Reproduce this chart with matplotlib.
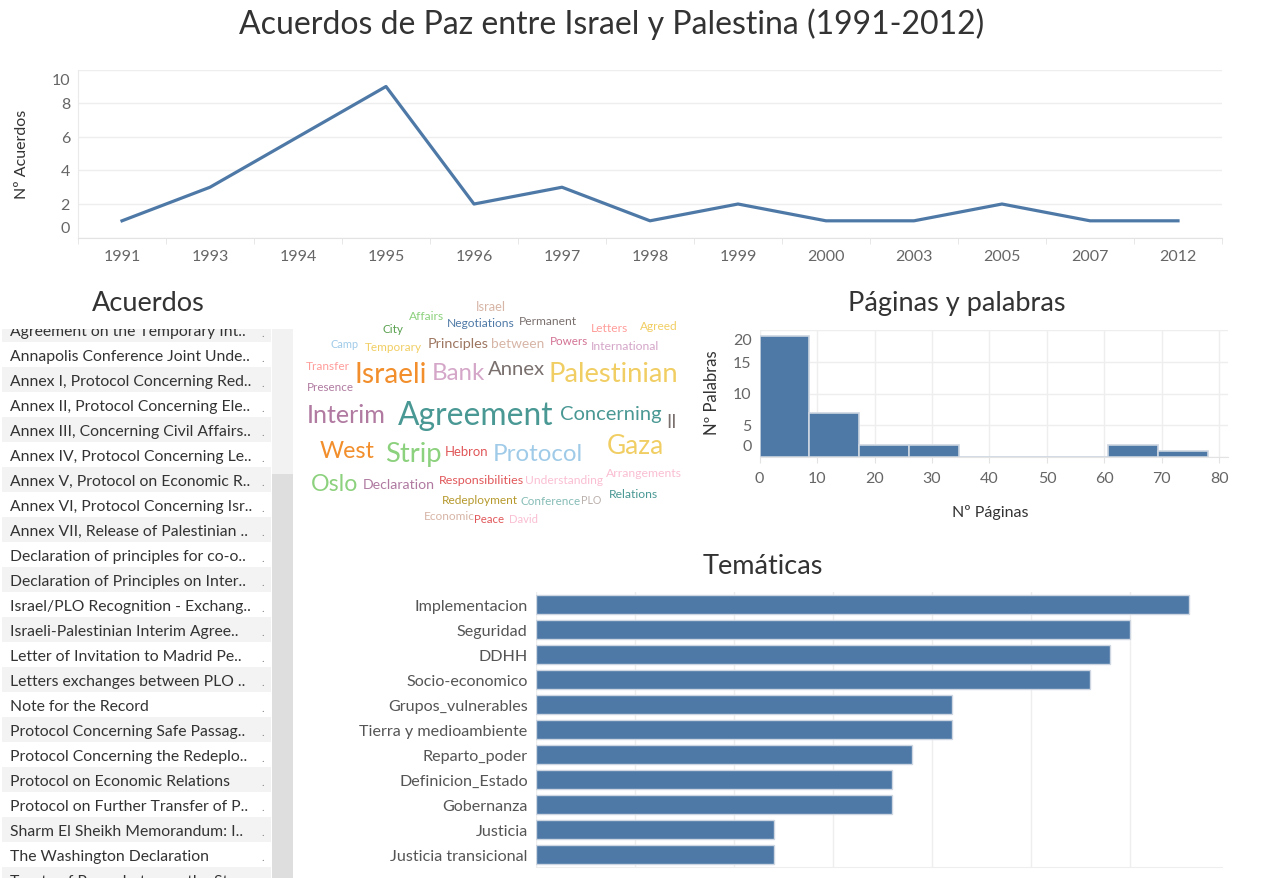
import matplotlib
matplotlib.use('Agg')
import matplotlib.pyplot as plt
from matplotlib.patches import Rectangle
import numpy as np

plt.rcParams['font.family'] = ['Lato', 'DejaVu Sans']

# ---------------- data ----------------
title = 'Acuerdos de Paz entre Israel y Palestina (1991-2012)'
years = ['1991', '1993', '1994', '1995', '1996', '1997', '1998', '1999',
         '2000', '2003', '2005', '2007', '2012']
n_acuerdos = [1, 3, 6, 9, 2, 3, 1, 2, 1, 1, 2, 1, 1]

acuerdos_list = [
    'Agreement on the Temporary Int..',
    'Annapolis Conference Joint Unde..',
    'Annex I, Protocol Concerning Red..',
    'Annex II, Protocol Concerning Ele..',
    'Annex III, Concerning Civil Affairs..',
    'Annex IV, Protocol Concerning Le..',
    'Annex V, Protocol on Economic R..',
    'Annex VI, Protocol Concerning Isr..',
    'Annex VII, Release of Palestinian ..',
    'Declaration of principles for co-o..',
    'Declaration of Principles on Inter..',
    'Israel/PLO Recognition - Exchang..',
    'Israeli-Palestinian Interim Agree..',
    'Letter of Invitation to Madrid Pe..',
    'Letters exchanges between PLO ..',
    'Note for the Record',
    'Protocol Concerning Safe Passag..',
    'Protocol Concerning the Redeplo..',
    'Protocol on Economic Relations',
    'Protocol on Further Transfer of P..',
    'Sharm El Sheikh Memorandum: I..',
    'The Washington Declaration',
    'Treaty of Peace between the Sta..',
]

hist_bin_width = 78 / 9
hist_counts = [19, 7, 2, 2, 0, 0, 0, 2, 1]
hist_xticks = [0, 10, 20, 30, 40, 50, 60, 70, 80]
hist_yticks = [0, 5, 10, 15, 20]

tematicas = ['Implementacion', 'Seguridad', 'DDHH', 'Socio-economico',
             'Grupos_vulnerables', 'Tierra y medioambiente', 'Reparto_poder',
             'Definicion_Estado', 'Gobernanza', 'Justicia', 'Justicia transicional']
tematicas_vals = [33, 30, 29, 28, 21, 21, 19, 18, 18, 12, 12]

words = ['Israel', 'Affairs', 'Negotiations', 'Permanent', 'City', 'Letters', 'Agreed',
         'Camp', 'Temporary', 'Principles', 'between', 'Powers', 'International',
         'Transfer', 'Israeli', 'Bank', 'Annex', 'Palestinian', 'Presence',
         'Interim', 'Agreement', 'Concerning', 'II',
         'West', 'Strip', 'Hebron', 'Protocol', 'Gaza', 'Arrangements',
         'Oslo', 'Declaration', 'Responsibilities', 'Understanding', 'Relations',
         'Redeployment', 'Conference', 'PLO', 'Economic', 'Peace', 'David']
word_colors = ['#d7b5a6', '#8cd17d', '#4e79a7', '#79706e', '#59a14f', '#ff9d9a', '#f1ce63',
               '#a0cbe8', '#f1ce63', '#9d7660', '#d7b5a6', '#d37295', '#d4a6c8',
               '#ff9d9a', '#f28e2b', '#d4a6c8', '#79706e', '#f1ce63', '#b07aa1',
               '#b07aa1', '#499894', '#499894', '#79706e',
               '#f28e2b', '#8cd17d', '#e15759', '#a0cbe8', '#f1ce63', '#fabfd2',
               '#8cd17d', '#b07aa1', '#e15759', '#fabfd2', '#499894',
               '#b6992d', '#86bcb6', '#bab0ac', '#d7b5a6', '#e15759', '#fabfd2']
# word-cloud layout (pixel centre and pixel width of each word)
word_x = [491, 427, 481, 548, 393, 609, 659,
          345, 393, 458, 518, 569, 625,
          328, 391, 458, 516, 613, 330,
          346, 476, 611, 672,
          347, 413, 466, 538, 635, 644,
          335, 399, 481, 564, 633,
          480, 551, 591, 449, 489, 524]
word_y = [305, 315, 322, 320, 328, 327, 325,
          343, 346, 342, 342, 340, 345,
          365, 373, 372, 368, 373, 386,
          414, 414, 413, 421,
          450, 453, 450, 453, 445, 472,
          483, 483, 479, 479, 493,
          499, 500, 499, 515, 518, 518]
word_w = [30, 35, 68, 58, 21, 37, 38,
          28, 57, 61, 53, 38, 69,
          44, 72, 53, 57, 130, 47,
          79, 155, 102, 10,
          55, 57, 44, 91, 57, 76,
          47, 72, 85, 78, 49,
          76, 60, 20, 51, 30, 29]

# ---------------- figure ----------------
W, H = 1279, 879
fig = plt.figure(figsize=(W / 100, H / 100), dpi=100)
fig.patch.set_facecolor('white')

BLUE = '#4e79a7'
GRID = '#eeeeee'
TICK = '#666666'
DARK = '#333333'


def px_rect(l, t, r, b):
    return [l / W, 1 - b / H, (r - l) / W, (b - t) / H]


overlay = fig.add_axes([0, 0, 1, 1], zorder=-1)
overlay.set_xlim(0, W)
overlay.set_ylim(H, 0)
overlay.axis('off')

overlay.text(612, 24, title, ha='center', va='center', fontsize=23, color=DARK)

# ---------------- line chart ----------------
ax1 = fig.add_axes(px_rect(78, 70.7, 1222, 238.6), facecolor='none')
xs = np.arange(len(years))
ax1.plot(xs, n_acuerdos, color=BLUE, lw=2.3)
ax1.set_xlim(-0.5, len(years) - 0.5)
ax1.set_ylim(0, 10)
yt = [0, 2, 4, 6, 8, 10]
ax1.set_yticks(yt)
ax1.set_yticklabels([])
ax1.tick_params(axis='y', length=0)
ax1.yaxis.grid(True, color=GRID, lw=1)
ax1.set_axisbelow(True)
ax1.set_xticks(xs)
ax1.set_xticklabels(years, fontsize=11.5, color=TICK)
ax1.set_xticks(np.arange(-0.5, len(years), 1), minor=True)
ax1.tick_params(axis='x', which='major', length=0, pad=8.5)
ax1.tick_params(axis='x', which='minor', length=4, color='#e3e3e3')
for s in ['top', 'right']:
    ax1.spines[s].set_visible(False)
ax1.spines['left'].set_color('#eaeaea')
ax1.spines['bottom'].set_color('#e3e3e3')
offs = {0: 10.5, 10: -9.5}
for v in yt:
    ax1.annotate(str(v), xy=(0, v), xycoords=('axes fraction', 'data'),
                 xytext=(-8, offs.get(v, 0) - 1), textcoords='offset pixels',
                 ha='right', va='center', fontsize=11.5, color=TICK)
overlay.text(22, 154, 'Nº Acuerdos', rotation=90, ha='center', va='center',
             fontsize=11.5, color=DARK)

# ---------------- table ----------------
overlay.text(148, 304, 'Acuerdos', ha='center', va='center', fontsize=19.5, color=DARK)
axt = fig.add_axes(px_rect(0, 330, 295, 879), facecolor='none')
axt.set_xlim(0, 295)
axt.set_ylim(879, 330)
axt.axis('off')
axt.add_patch(Rectangle((272, 330), 21, 145, color='#f2f2f2', lw=0))
axt.add_patch(Rectangle((272, 475), 21, 404, color='#dedede', lw=0))
for i, name in enumerate(acuerdos_list):
    yc = 330 + 25 * i
    if i % 2 == 0:
        axt.add_patch(Rectangle((2, yc - 12.5), 269, 25, color='#f3f3f3', lw=0))
    axt.text(10, yc + 2, name, ha='left', va='center', fontsize=11.3, color=DARK,
             clip_on=True)
    axt.text(263, yc + 3, '.', ha='center', va='center', fontsize=8, color='#888888',
             clip_on=True)

# ---------------- word cloud ----------------
renderer = fig.canvas.get_renderer()
for w, c, x, y, tw in zip(words, word_colors, word_x, word_y, word_w):
    t = overlay.text(x, y + 2, w, ha='center', va='center', fontsize=10, color=c)
    bb = t.get_window_extent(renderer)
    t.set_fontsize(10 * tw / bb.width)

# ---------------- histogram ----------------
overlay.text(957, 304, 'Páginas y palabras', ha='center', va='center',
             fontsize=19.5, color=DARK)
ax2 = fig.add_axes(px_rect(759.6, 330.7, 1228, 458.3), facecolor='none')
edges = np.arange(len(hist_counts)) * hist_bin_width
ax2.bar(edges, hist_counts, width=hist_bin_width, align='edge', color=BLUE,
        edgecolor='#cdd6e1', lw=1.2, zorder=3)
ax2.set_xlim(0, 81.5)
ax2.set_ylim(0, 20)
ax2.set_xticks(hist_xticks)
ax2.set_xticklabels([str(v) for v in hist_xticks], fontsize=11.5, color=TICK)
ax2.set_yticks(hist_yticks)
ax2.set_yticklabels([])
ax2.tick_params(axis='y', length=0)
ax2.tick_params(axis='x', length=4, color='#e3e3e3', pad=6)
ax2.grid(True, color=GRID, lw=1)
ax2.set_axisbelow(True)
for s in ['top', 'right', 'left']:
    ax2.spines[s].set_visible(False)
ax2.spines['bottom'].set_color('#e3e3e3')
offs2 = {0: 12, 20: -9}
for v in hist_yticks:
    ax2.annotate(str(v), xy=(0, v), xycoords=('axes fraction', 'data'),
                 xytext=(-8, offs2.get(v, 0) - 1), textcoords='offset pixels',
                 ha='right', va='center', fontsize=11.5, color=TICK)
overlay.text(712, 393, 'Nº Palabras', rotation=90, ha='center', va='center',
             fontsize=12, color=DARK)
overlay.text(990, 513, 'Nº Páginas', ha='center', va='center', fontsize=11.5, color=DARK)

# ---------------- temáticas ----------------
overlay.text(763, 567, 'Temáticas', ha='center', va='center', fontsize=19.5, color=DARK)
ax3 = fig.add_axes(px_rect(536, 593, 1222, 868), facecolor='none')
ys = np.arange(len(tematicas))
ax3.barh(ys, tematicas_vals, height=0.74, color=BLUE, edgecolor='#cdd6e1', lw=1, zorder=3)
ax3.set_ylim(len(tematicas) - 0.5, -0.5)
ax3.set_xlim(0, 34.65)
ax3.set_xticks(range(0, 35, 5))
ax3.set_xticklabels([])
ax3.tick_params(axis='x', length=0)
ax3.xaxis.grid(True, color=GRID, lw=1)
ax3.set_axisbelow(True)
ax3.set_yticks(ys)
ax3.set_yticklabels(tematicas, fontsize=11.6, color='#555555')
ax3.tick_params(axis='y', length=0, pad=6)
for lbl in ax3.get_yticklabels():
    lbl.set_y(lbl.get_position()[1])
for s in ['top', 'right', 'left']:
    ax3.spines[s].set_visible(False)
ax3.spines['bottom'].set_color('#eeeeee')

fig.savefig('out.png', dpi=100, facecolor='white')
